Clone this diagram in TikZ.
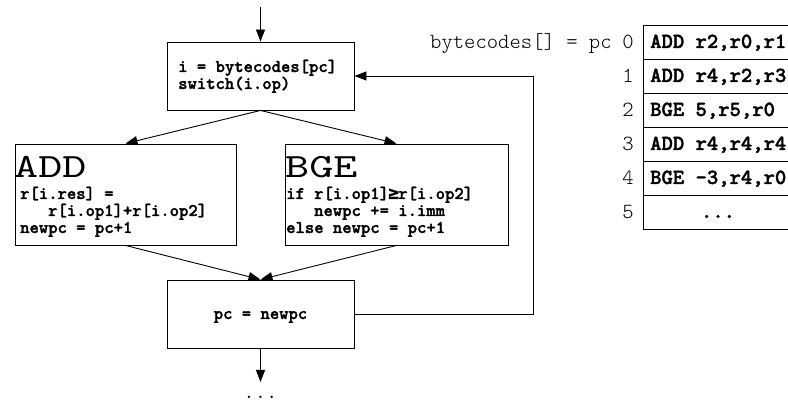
\documentclass[tikz,border=0pt]{standalone}
\usepackage{fontspec}
\setmonofont{lmmonolt10-regular.otf}[BoldFont=lmmonolt10-bold.otf, BoldFeatures={FakeBold=1.6}]
\newfontfamily\bigtt{lmmono10-regular.otf}[FakeStretch=1.35]
\newfontfamily\symf{DejaVu Sans Mono}[FakeBold=1]
\newcommand{\geqsym}{\makebox[0.525em]{\symf ≥}}
\usetikzlibrary{arrows.meta}
\tikzset{
  box/.style={draw=black, line width=0.9pt, fill=white, inner sep=0pt},
  arr/.style={line width=0.9pt, -{Triangle[length=12pt,width=9pt]}},
  ln/.style={line width=0.9pt},
  code/.style={font=\ttfamily\bfseries\fontsize{17.8}{19}\selectfont, anchor=base west, inner sep=0pt},
  big/.style={font=\bigtt\fontsize{34}{36}\selectfont, anchor=base west, inner sep=0pt},
  tab/.style={font=\ttfamily\bfseries\fontsize{21.6}{23}\selectfont, anchor=base west, inner sep=0pt},
  idx/.style={font=\ttfamily\fontsize{21.6}{23}\selectfont, anchor=base, inner sep=0pt},
}
\begin{document}
\begin{tikzpicture}[x=1pt,y=-1pt]
\useasboundingbox (0,0) rectangle (788,403);
% boxes
\node[box, minimum width=187pt, minimum height=68pt] (b1) at (260.5,76) {};
\node[box, minimum width=221pt, minimum height=101pt] (add) at (125.5,194.5) {};
\node[box, minimum width=223pt, minimum height=101pt] (bge) at (396.5,194.5) {};
\node[box, minimum width=187pt, minimum height=68pt] (pc) at (260.5,314) {};
% box texts
\node[code] (t1) at (178,72) {i = bytecodes[pc]};
\node[code] (t2) at (178,89) {switch(i.op)};
\node[big] (addh) at (14,178) {ADD};
\node[code] (a1) at (20,199) {r[i.res] =};
\node[code] (a2) at (48,216) {r[i.op1]+r[i.op2]};
\node[code] (a3) at (20,233) {newpc = pc+1};
\node[big] (bgeh) at (285,178) {BGE};
\node[code] (g1) at (286,199) {if r[i.op1]\geqsym r[i.op2]};
\node[code] (g2) at (314,216) {newpc += i.imm};
\node[code] (g3) at (286,233) {else newpc = pc+1};
\node[code, anchor=base] (p1) at (260.5,319) {pc = newpc};
% connectors
\coordinate (start) at (260.5,7);
\coordinate (endp) at (260.5,382);
\draw[arr] (start) -- (b1.north);
\draw[arr] (b1.south) -- (add.north);
\draw[arr] (b1.south) -- (bge.north);
\draw[arr] (add.south) -- (pc.north);
\draw[arr] (bge.south) -- (pc.north);
\draw[arr] (pc.south) -- (endp);
\draw[arr] (pc.east) -- ++(179,0) |- (b1.east);
\node[idx] (dots) at (260.5,399) {...};
% table
\node[idx, anchor=base west] (lbl) at (430,48.5) {bytecodes[] = pc};
\draw[ln] (790,25) -- (643,25) -- (643,229) -- (790,229);
\foreach \y in {59,93,127,161,195} \draw[ln] (643,\y) -- (790,\y);
\node[idx] (i0) at (628,48.5) {0};
\node[idx] (i1) at (628,82.5) {1};
\node[idx] (i2) at (628,116.5) {2};
\node[idx] (i3) at (628,150.5) {3};
\node[idx] (i4) at (628,184.5) {4};
\node[idx] (i5) at (628,218.5) {5};
\node[tab] (r0) at (650,48) {ADD r2,r0,r1};
\node[tab] (r1) at (650,82) {ADD r4,r2,r3};
\node[tab] (r2) at (650,116) {BGE 5,r5,r0};
\node[tab] (r3) at (650,150) {ADD r4,r4,r4};
\node[tab] (r4) at (650,184) {BGE -3,r4,r0};
\node[tab, anchor=base] (r5) at (718,218) {...};
\end{tikzpicture}
\end{document}
